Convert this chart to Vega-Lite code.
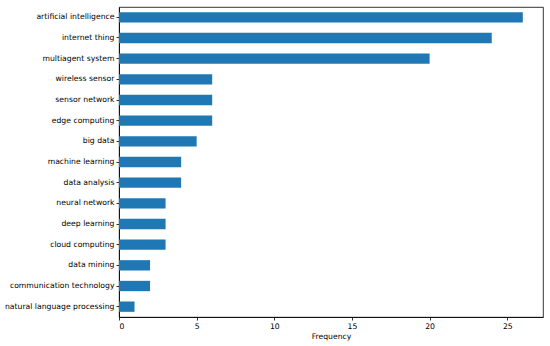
{
  "$schema": "https://vega.github.io/schema/vega-lite/v6.json",
  "width": 424,
  "height": 310,
  "autosize": "none",
  "padding": {"left": 119, "top": 7, "right": 7, "bottom": 29},
  "background": "white",
  "config": {
    "view": {"stroke": "black", "strokeWidth": 0.8},
    "font": "DejaVu Sans",
    "axis": {
      "grid": false,
      "domainColor": "black",
      "domainWidth": 0.8,
      "tickColor": "black",
      "tickWidth": 0.8,
      "tickSize": 3,
      "labelColor": "black",
      "labelFont": "DejaVu Sans",
      "labelFontSize": 7.7,
      "titleFont": "DejaVu Sans",
      "titleFontSize": 7.7,
      "titleFontWeight": "normal",
      "titleColor": "black",
      "labelPadding": 2
    }
  },
  "data": {
    "values": [
      {"keyword": "artificial intelligence", "frequency": 26},
      {"keyword": "internet thing", "frequency": 24},
      {"keyword": "multiagent system", "frequency": 20},
      {"keyword": "wireless sensor", "frequency": 6},
      {"keyword": "sensor network", "frequency": 6},
      {"keyword": "edge computing", "frequency": 6},
      {"keyword": "big data", "frequency": 5},
      {"keyword": "machine learning", "frequency": 4},
      {"keyword": "data analysis", "frequency": 4},
      {"keyword": "neural network", "frequency": 3},
      {"keyword": "deep learning", "frequency": 3},
      {"keyword": "cloud computing", "frequency": 3},
      {"keyword": "data mining", "frequency": 2},
      {"keyword": "communication technology", "frequency": 2},
      {"keyword": "natural language processing", "frequency": 1}
    ]
  },
  "mark": {"type": "bar", "color": "#1f77b4"},
  "encoding": {
    "y": {
      "field": "keyword",
      "type": "nominal",
      "sort": null,
      "title": null,
      "scale": {"paddingInner": 0.5, "paddingOuter": 0.25},
      "axis": {"labelPadding": 2}
    },
    "x": {
      "field": "frequency",
      "type": "quantitative",
      "title": "Frequency",
      "scale": {"domain": [0, 27.3], "nice": false, "zero": true},
      "axis": {"values": [0, 5, 10, 15, 20, 25], "titlePadding": 3}
    }
  }
}
